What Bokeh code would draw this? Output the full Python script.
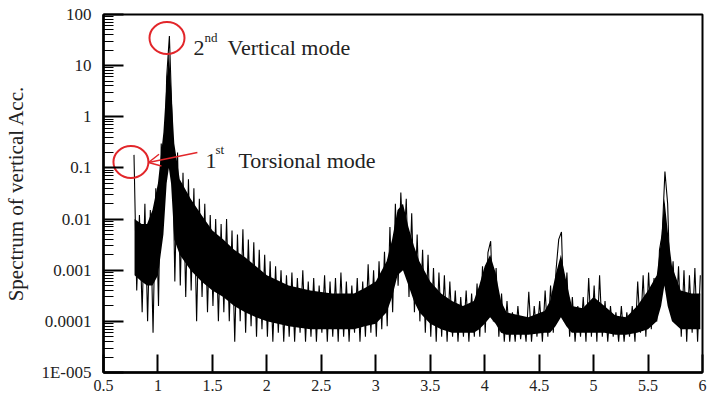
from bokeh.plotting import figure
from bokeh.models import FixedTicker, Label, Arrow, OpenHead
from bokeh.embed import file_html
from bokeh.resources import INLINE

# ---------------- data ----------------
F_START = 0.78      # first frequency sample (Hz)
F_STEP = 0.025      # sample spacing (Hz)

# individual spikes of the spectrum (alternating tops / troughs)
spectrum = [
    0.18, 4e-4, 0.012, 1.5e-4, 0.02, 1e-4, 0.015, 6e-5, 0.04, 2e-4,          # 0.780-1.005
    0.3, 0.03, 6.0, 38, 0.9, 6e-4, 0.2, 5e-4, 0.08, 3e-4,                    # 1.030-1.255
    0.06, 4e-4, 0.04, 1e-4, 0.025, 3e-4, 0.02, 1.5e-4, 0.012, 2e-4,          # 1.280-1.505
    0.01, 1e-4, 0.008, 1.5e-4, 0.01, 1e-4, 0.006, 4e-5, 0.005, 1e-4,         # 1.530-1.755
    0.0063, 6e-5, 0.004, 8e-5, 0.0035, 5e-5, 0.0025, 7e-5, 0.002, 5e-5,      # 1.780-2.005
    0.0015, 4e-5, 0.0012, 6e-5, 0.001, 4e-5, 8e-4, 5e-5, 9e-4, 4e-5,         # 2.030-2.255
    7e-4, 6e-5, 0.001, 4e-5, 6e-4, 5e-5, 7e-4, 4e-5, 5e-4, 6e-5,             # 2.280-2.505
    8e-4, 4e-5, 6e-4, 5e-5, 7e-4, 4e-5, 9e-4, 5e-5, 6e-4, 4e-5,             # 2.530-2.755
    5e-4, 6e-5, 7e-4, 4e-5, 6e-4, 5e-5, 0.0013, 6e-5, 0.001, 5e-5,          # 2.780-3.005
    0.0015, 7e-5, 0.0023, 8e-5, 0.007, 1.5e-4, 0.02, 5e-4, 0.033, 0.002,     # 3.030-3.255
    0.025, 3e-4, 0.013, 1.5e-4, 0.005, 1e-4, 0.0025, 6e-5, 0.002, 5e-5,      # 3.280-3.505
    0.0011, 4e-5, 9e-4, 5e-5, 8e-4, 4e-5, 6e-4, 5e-5, 4e-4, 4e-5,           # 3.530-3.755
    3e-4, 5e-5, 4e-4, 4e-5, 3.5e-4, 5e-5, 5.5e-4, 5e-5, 0.0012, 6e-5,       # 3.780-4.005
    0.0022, 0.0037, 1e-4, 0.0011, 5e-5, 3.5e-4, 4e-5, 2.5e-4, 4e-5, 1.5e-4,  # 4.030-4.255
    4e-5, 2e-4, 4.5e-5, 1.2e-4, 4e-5, 3.8e-4, 4e-5, 2e-4, 5e-5, 2.5e-4,     # 4.280-4.505
    4e-5, 4e-4, 5e-5, 5e-4, 6e-5, 0.001, 0.004, 0.0056, 1e-4, 9e-4,          # 4.530-4.755
    5e-5, 3e-4, 4e-5, 2e-4, 5e-5, 3e-4, 4e-5, 7e-4, 5e-5, 5e-4,             # 4.780-5.005
    4e-5, 8e-4, 5e-5, 2.5e-4, 4e-5, 2e-4, 5e-5, 1.5e-4, 4e-5, 2e-4,         # 5.030-5.255
    4e-5, 1.5e-4, 5e-5, 2e-4, 4e-5, 6e-4, 6e-5, 8e-4, 5e-5, 9e-4,           # 5.280-5.505
    7e-5, 7e-4, 1e-4, 0.0025, 0.005, 0.085, 0.02, 3e-4, 0.0015, 1e-4,        # 5.530-5.755
    0.0012, 5e-5, 0.001, 4e-5, 8e-4, 6e-5, 0.0011, 4e-5, 8e-4,              # 5.780-5.980
]
freq = [round(F_START + F_STEP * i, 3) for i in range(len(spectrum))]

# dense (solid black) body of the noisy spectrum
band_freq = [0.785, 0.85, 0.9, 0.95, 1.0, 1.05, 1.08, 1.1, 1.12, 1.15, 1.2, 1.3,
             1.4, 1.5, 1.6, 1.7, 1.8, 1.9, 2.0, 2.2, 2.4, 2.6, 2.8, 2.9, 3.0,
             3.1, 3.15, 3.2, 3.25, 3.3, 3.35, 3.4, 3.5, 3.6, 3.7, 3.8, 3.9,
             3.95, 4.0, 4.05, 4.1, 4.15, 4.2, 4.4, 4.55, 4.6, 4.65, 4.7, 4.75,
             4.8, 4.9, 5.0, 5.1, 5.2, 5.3, 5.4, 5.5, 5.58, 5.62, 5.65, 5.68,
             5.72, 5.8, 5.9, 5.98]
band_hi = [0.01, 0.008, 0.008, 0.015, 0.05, 0.5, 5, 20, 4, 0.3, 0.06, 0.025,
           0.012, 0.006, 0.004, 0.0025, 0.0018, 0.0012, 8e-4, 5e-4, 4e-4, 3.5e-4,
           3.5e-4, 4.5e-4, 6e-4, 0.0015, 0.004, 0.015, 0.02, 0.007, 0.003,
           0.0015, 6e-4, 3.5e-4, 2.5e-4, 2e-4, 2.5e-4, 5e-4, 0.0012, 0.002, 9e-4,
           2.5e-4, 1.5e-4, 1.2e-4, 1.6e-4, 2.5e-4, 8e-4, 0.002, 6e-4, 2e-4,
           1.8e-4, 3e-4, 2e-4, 1.3e-4, 1.2e-4, 2e-4, 4e-4, 8e-4, 0.004, 0.025,
           0.006, 0.0012, 4e-4, 3.5e-4, 3.5e-4]
band_lo = [8e-4, 6e-4, 5e-4, 5e-4, 8e-4, 0.005, 0.05, 0.1, 0.05, 0.004, 0.002,
           0.001, 6e-4, 4e-4, 3e-4, 2e-4, 1.5e-4, 1.2e-4, 1e-4, 8e-5, 7e-5, 7e-5,
           7e-5, 8e-5, 9e-5, 1.5e-4, 3e-4, 8e-4, 0.001, 5e-4, 2.5e-4, 1.5e-4,
           9e-5, 7e-5, 6e-5, 6e-5, 6e-5, 7e-5, 9e-5, 1.2e-4, 9e-5, 6e-5, 5.5e-5,
           5.5e-5, 6e-5, 6e-5, 8e-5, 1.2e-4, 8e-5, 6e-5, 6e-5, 6e-5, 6e-5,
           5.5e-5, 5.5e-5, 6e-5, 7e-5, 1e-4, 2e-4, 5e-4, 2e-4, 1e-4, 7e-5, 7e-5,
           7e-5]

x_ticks = [0.5, 1, 1.5, 2, 2.5, 3, 3.5, 4, 4.5, 5, 5.5, 6]
x_tick_labels = ["0.5", "1", "1.5", "2", "2.5", "3", "3.5", "4", "4.5", "5", "5.5", "6"]
y_ticks = [1e-5, 1e-4, 1e-3, 1e-2, 1e-1, 1, 10, 100]
y_tick_labels = ["1E-005", "0.0001", "0.001", "0.01", "0.1", "1", "10", "100"]
y_minor = [m * d for d in [1e-5, 1e-4, 1e-3, 1e-2, 1e-1, 1, 10] for m in range(2, 10)]

FONT = "Liberation Serif"
TXT = "#222222"
RED = "#e2262a"

# ---------------- figure ----------------
p = figure(width=711, height=415, x_range=(0.5, 6), y_range=(1e-5, 100),
           y_axis_type="log", output_backend="svg", toolbar_location=None,
           min_border_left=103, min_border_right=9, min_border_top=14,
           min_border_bottom=43)
p.grid.visible = False
p.outline_line_color = "black"
p.outline_line_width = 2

p.varea(x=band_freq, y1=band_lo, y2=band_hi, fill_color="black")
p.line(freq, spectrum, line_color="black", line_width=1.1)

# axes
xa = p.xaxis[0]
xa.ticker = FixedTicker(ticks=x_ticks)
xa.major_label_overrides = {t: l for t, l in zip(x_ticks, x_tick_labels)}
xa.major_tick_in = 18
xa.major_tick_out = 0
xa.major_tick_line_width = 2
xa.minor_tick_line_color = None
xa.axis_line_width = 2.5
xa.major_label_standoff = 7
xa.major_label_text_font = FONT
xa.major_label_text_font_size = "16px"
xa.major_label_text_color = TXT

ya = p.yaxis[0]
ya.ticker = FixedTicker(ticks=y_ticks, minor_ticks=y_minor)
ya.major_label_overrides = {t: l for t, l in zip(y_ticks, y_tick_labels)}
ya.major_tick_in = 20
ya.major_tick_out = 0
ya.major_tick_line_width = 2
ya.minor_tick_in = 10
ya.minor_tick_out = 0
ya.minor_tick_line_width = 1
ya.axis_line_width = 2.5
ya.major_label_standoff = 12
ya.major_label_text_font = FONT
ya.major_label_text_font_size = "17px"
ya.major_label_text_color = TXT
ya.axis_label = "Spectrum of vertical Acc."
ya.axis_label_text_font = FONT
ya.axis_label_text_font_size = "21px"
ya.axis_label_text_font_style = "normal"
ya.axis_label_text_color = TXT
ya.axis_label_standoff = 10

# x-axis title (placed just under the tick labels)
p.add_layout(Label(x=3.25, y=3.4e-6, text="Frequency(Hz)", text_align="center",
                   text_baseline="top", text_font=FONT, text_font_size="16px",
                   text_color=TXT))

# annotations
p.ellipse(x=[1.083, 0.752], y=[34.7, 0.1306], width=35, height=32,
          width_units="screen", height_units="screen",
          fill_color=None, line_color=RED, line_width=2)
p.add_layout(Arrow(x_start=1.362, y_start=0.200, x_end=0.913, y_end=0.1276,
                   line_color=RED, line_width=1.5,
                   end=OpenHead(size=12, line_color=RED, line_width=1.5)))

def lab(x, y, text, size):
    p.add_layout(Label(x=x, y=y, text=text, text_font=FONT, text_font_size=size,
                       text_color=TXT, text_baseline="alphabetic"))

lab(1.326, 22.6, "2", "22px")
lab(1.427, 35.5, "nd", "13px")
lab(1.638, 22.6, "Vertical mode", "22px")
lab(1.436, 0.1396, "1", "22px")
lab(1.528, 0.229, "st", "13px")
lab(1.739, 0.1396, "Torsional mode", "22px")

open("out.html", "w").write(file_html(p, INLINE))
